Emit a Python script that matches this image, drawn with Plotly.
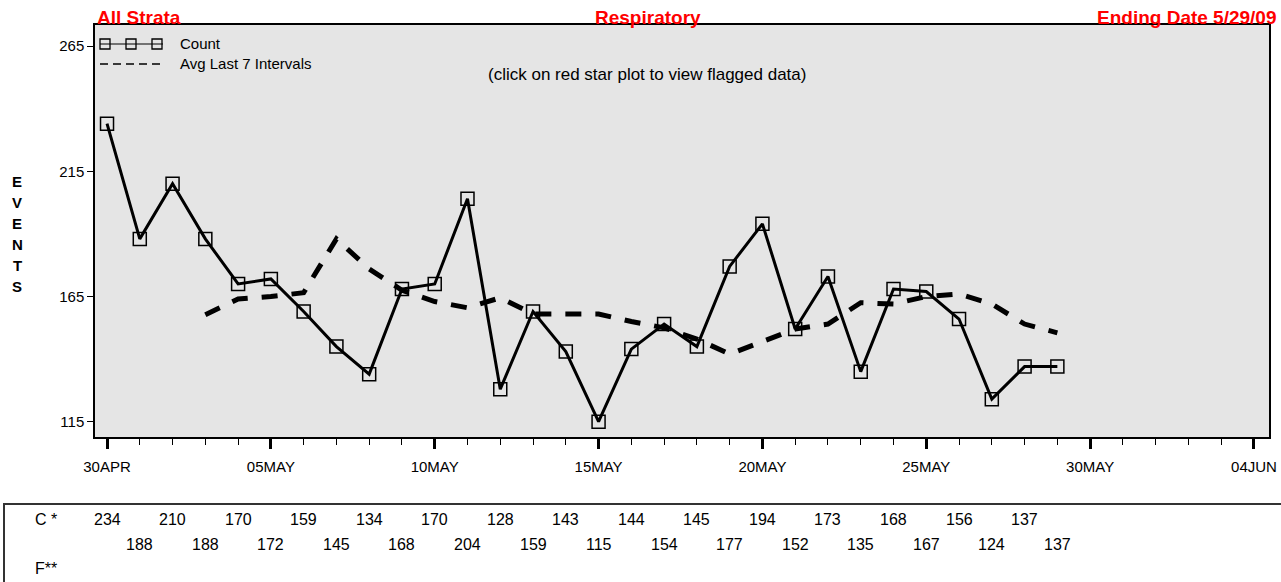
import pandas as pd
import plotly.graph_objects as go

# ---- data ----
dates = [d.strftime("%Y-%m-%d") for d in pd.date_range("2009-04-30", "2009-05-29")]
counts = [234, 188, 210, 188, 170, 172, 159, 145, 134, 168,
          170, 204, 128, 159, 143, 115, 144, 154, 145, 177,
          194, 152, 173, 135, 168, 167, 156, 124, 137, 137]
avg7 = [None, None, None, 157.7, 164, 165, 166.5, 188, 176, 167.5,
        163, 160.5, 164.5, 158, 158, 158, 155, 152.5, 148, 142,
        147, 152, 154, 162.5, 162, 165, 166, 162, 154, 150.5]
x_tickvals = ["2009-04-30", "2009-05-05", "2009-05-10", "2009-05-15",
              "2009-05-20", "2009-05-25", "2009-05-30", "2009-06-04"]
x_ticktext = ["30APR", "05MAY", "10MAY", "15MAY", "20MAY", "25MAY", "30MAY", "04JUN"]
y_tickvals = [115, 165, 215, 265]

# ---- layout helpers (pixel -> paper) ----
W, H = 1281, 582
L, R, T, B = 95, 1269, 25, 437
def px(x):
    return (x - L) / (R - L)
def py(y):
    return (B - y) / (B - T)

FONT = "Liberation Sans, Arial, sans-serif"

fig = go.Figure()
fig.add_trace(go.Scatter(
    x=dates, y=avg7, mode="lines", name="Avg Last 7 Intervals",
    line=dict(color="black", width=5, dash="16px,14px"),
    connectgaps=False, showlegend=False))
fig.add_trace(go.Scatter(
    x=dates, y=counts, mode="lines+markers", name="Count",
    line=dict(color="black", width=3),
    marker=dict(symbol="square-open", size=13, color="black",
                line=dict(width=1.5, color="black")),
    showlegend=False))

annotations = []
shapes = []

# titles
annotations.append(dict(text="<b>All Strata</b>", x=px(95), y=py(17), xref="paper", yref="paper",
                        xanchor="left", yanchor="middle", showarrow=False,
                        font=dict(family=FONT, size=19, color="#ff0000")))
annotations.append(dict(text="<b>Respiratory</b>", x=px(648), y=py(17), xref="paper", yref="paper",
                        xanchor="center", yanchor="middle", showarrow=False,
                        font=dict(family=FONT, size=19, color="#ff0000")))
annotations.append(dict(text="<b>Ending Date 5/29/09</b>", x=px(1279), y=py(17), xref="paper", yref="paper",
                        xanchor="right", yanchor="middle", showarrow=False,
                        font=dict(family=FONT, size=19, color="#ff0000")))
annotations.append(dict(text="(click on red star plot to view flagged data)", x=px(647), y=py(75),
                        xref="paper", yref="paper", xanchor="center", yanchor="middle", showarrow=False,
                        font=dict(family=FONT, size=17, color="black")))

# EVENTS vertical label
for i, ch in enumerate("EVENTS"):
    annotations.append(dict(text="<b>%s</b>" % ch, x=px(17), y=py(181 + i * 21), xref="paper", yref="paper",
                            xanchor="center", yanchor="middle", showarrow=False,
                            font=dict(family=FONT, size=15, color="black")))

# manual legend
shapes.append(dict(type="line", xref="paper", yref="paper", x0=px(100), x1=px(163), y0=py(44), y1=py(44),
                   line=dict(color="black", width=1.2)))
for cx in (105, 131, 157):
    shapes.append(dict(type="rect", xref="paper", yref="paper", x0=px(cx - 5), x1=px(cx + 5),
                       y0=py(39), y1=py(49), line=dict(color="black", width=1.3)))
shapes.append(dict(type="line", xref="paper", yref="paper", x0=px(100), x1=px(163), y0=py(64), y1=py(64),
                   line=dict(color="black", width=1.3, dash="8px,5px")))
annotations.append(dict(text="Count", x=px(178), y=py(44), xref="paper", yref="paper",
                        xanchor="left", yanchor="middle", showarrow=False,
                        font=dict(family=FONT, size=15, color="black")))
annotations.append(dict(text="Avg Last 7 Intervals", x=px(178), y=py(64), xref="paper", yref="paper",
                        xanchor="left", yanchor="middle", showarrow=False,
                        font=dict(family=FONT, size=15, color="black")))

# bottom table
shapes.append(dict(type="rect", xref="paper", yref="paper", x0=px(4), x1=px(1320), y0=py(504), y1=py(620),
                   line=dict(color="#333333", width=2)))
annotations.append(dict(text="C *", x=px(33), y=py(519), xref="paper", yref="paper",
                        xanchor="left", yanchor="middle", showarrow=False,
                        font=dict(family=FONT, size=16, color="black")))
annotations.append(dict(text="F**", x=px(33), y=py(568), xref="paper", yref="paper",
                        xanchor="left", yanchor="middle", showarrow=False,
                        font=dict(family=FONT, size=16, color="black")))
for i, (d, v) in enumerate(zip(dates, counts)):
    annotations.append(dict(text=str(v), x=d, xref="x", y=py(519 if i % 2 == 0 else 544), yref="paper",
                            xanchor="center", yanchor="middle", showarrow=False,
                            font=dict(family=FONT, size=16, color="black")))

fig.update_layout(
    width=W, height=H,
    margin=dict(l=L, r=W - R, t=T, b=H - B, pad=0),
    paper_bgcolor="white", plot_bgcolor="#e5e5e5",
    font=dict(family=FONT, color="black"),
    annotations=annotations, shapes=shapes,
    showlegend=False,
    xaxis=dict(
        type="date", automargin=False,
        range=["2009-04-29 15:12", "2009-06-04 11:00"],
        tickmode="array", tickvals=x_tickvals, ticktext=x_ticktext,
        ticks="outside", ticklen=10, tickwidth=3, tickcolor="black",
        ticklabelstandoff=5,
        tickfont=dict(family=FONT, size=15, color="black"),
        minor=dict(ticks="outside", ticklen=6, tickwidth=1, tickcolor="black",
                   dtick=86400000, tick0="2009-04-30", showgrid=False),
        showgrid=False, zeroline=False,
        showline=True, linecolor="black", linewidth=1.5, mirror=True,
    ),
    yaxis=dict(
        automargin=False,
        range=[108.9, 273.4],
        tickmode="array", tickvals=y_tickvals,
        ticks="outside", ticklen=6, tickwidth=1, tickcolor="black",
        tickfont=dict(family=FONT, size=15, color="black"),
        showgrid=False, zeroline=False,
        showline=True, linecolor="black", linewidth=1.5, mirror=True,
    ),
)

fig.write_html("out.html",
               config={"displayModeBar": False},
               post_script="document.body.style.margin='0';document.body.style.padding='0';"
                           "document.body.style.overflow='hidden';")
